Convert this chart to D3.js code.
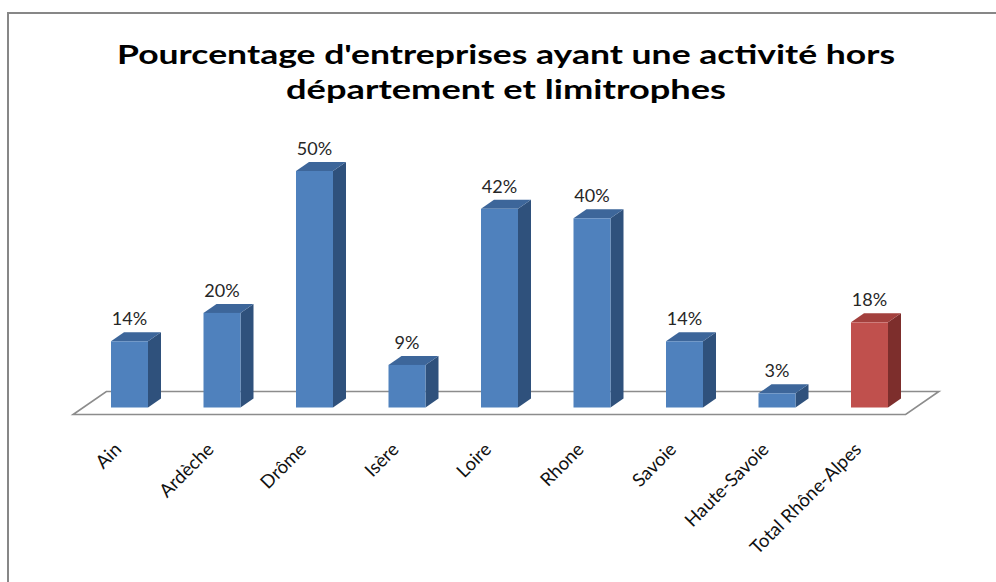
<!DOCTYPE html>
<html><head><meta charset="utf-8">
<script src="https://cdn.jsdelivr.net/npm/d3@7"></script>
<style>html,body{margin:0;padding:0;background:#fff;}svg{display:block;}</style>
</head><body>
<svg id="chart" width="996" height="582"></svg>
<script>
const categories = ["Ain","Ardèche","Drôme","Isère","Loire","Rhone","Savoie","Haute-Savoie","Total Rhône-Alpes"];
const values = [14, 20, 50, 9, 42, 40, 14, 3, 18];
const valueLabels = ["14%","20%","50%","9%","42%","40%","14%","3%","18%"];
const titleLines = ["Pourcentage d'entreprises ayant une activité hors", "département et limitrophes"];

const svg = d3.select("#chart");
svg.append("rect").attr("x",8).attr("y",13).attr("width",1100).attr("height",700)
  .attr("fill","#fff").attr("stroke","#878787").attr("stroke-width",2);

const x = d3.scaleBand().domain(categories).range([83.25, 915.75]).paddingInner(0.6).paddingOuter(0.3);
const y = d3.scaleLinear().domain([0, 50]).range([407.5, 171]);

const ox = 13, oy = -9;          // bar depth offset
const fk = 7 / 9;                // floor margin relative to bar depth
const fx = ox * fk, fy = oy * fk;
const y0 = y(0);
const xl = x.range()[0], xr = x.range()[1];

// floor
const floorPts = [
  [xl - fx, y0 - fy],
  [xl + ox + fx, y0 + oy + fy],
  [xr + ox + fx, y0 + oy + fy],
  [xr - fx, y0 - fy]
];
svg.append("path").attr("d", d3.line()(floorPts) + "Z")
  .attr("fill","#fff").attr("stroke","#8c8c8c").attr("stroke-width",1.6);

const colors = categories.map((c,i) => i === categories.length-1
  ? {front:"#C0504D", top:"#A3403D", side:"#7D2E2C"}
  : {front:"#4F81BD", top:"#3D669A", side:"#2F517C"});

const g = svg.append("g");
categories.forEach((c,i) => {
  const x0 = x(c), w = x.bandwidth(), yt = y(values[i]);
  const col = colors[i];
  g.append("path").attr("d", d3.line()([[x0+w,yt],[x0+w+ox,yt+oy],[x0+w+ox,y0+oy],[x0+w,y0]])+"Z")
    .attr("fill", col.side);
  g.append("path").attr("d", d3.line()([[x0,yt],[x0+ox,yt+oy],[x0+w+ox,yt+oy],[x0+w,yt]])+"Z")
    .attr("fill", col.top);
  g.append("rect").attr("x", x0).attr("y", yt).attr("width", w).attr("height", y0 - yt)
    .attr("fill", col.front);
  g.append("text").attr("x", x0 + w/2).attr("y", yt - 16)
    .attr("text-anchor","middle").attr("font-family","Lato, 'Open Sans', sans-serif")
    .attr("font-size",18).attr("fill","#262626").text(valueLabels[i]);
  g.append("text")
    .attr("transform", `translate(${x0 + w/2 - 7},${y0 + 43}) rotate(-45)`)
    .attr("text-anchor","end").attr("font-family","Lato, 'Open Sans', sans-serif")
    .attr("font-size",18.5).attr("fill","#111").text(c);
});

// title
const titleLens = [778, 440];
const t = svg.append("text").attr("text-anchor","middle")
  .attr("font-family","Lato, 'Open Sans', sans-serif").attr("font-weight","bold")
  .attr("font-size",27).attr("fill","#000");
titleLines.forEach((l,i) => {
  t.append("tspan").attr("x", 506).attr("y", 64 + i*35)
    .attr("textLength", titleLens[i]).attr("lengthAdjust","spacingAndGlyphs").text(l);
});
</script>
</body></html>
